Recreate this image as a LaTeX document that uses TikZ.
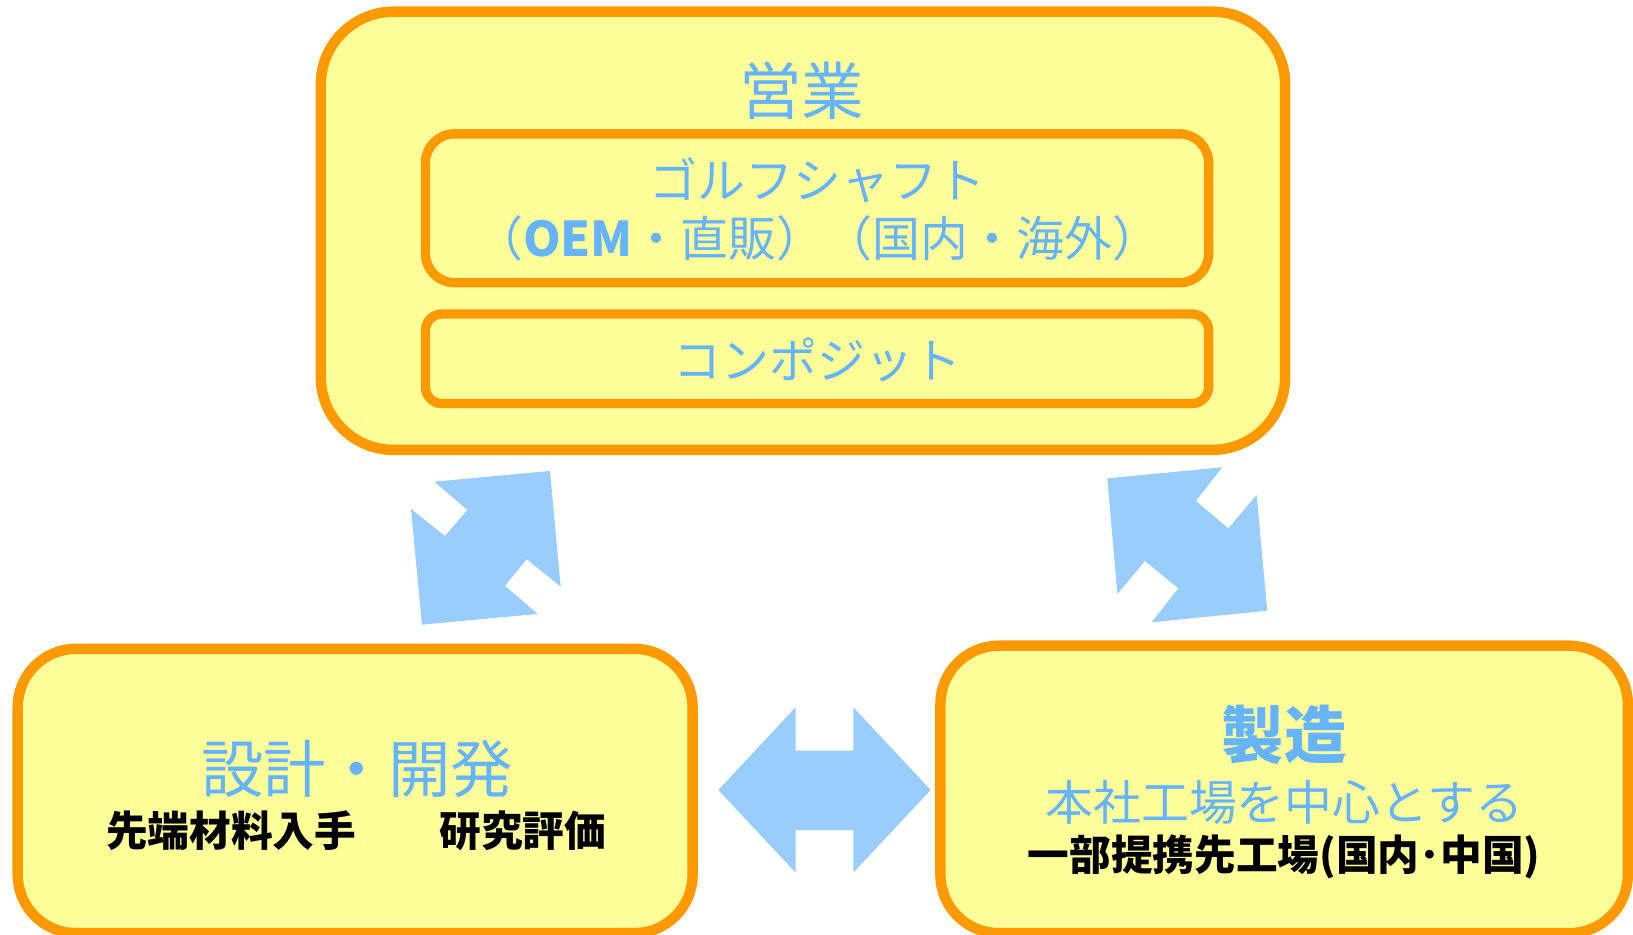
\documentclass[tikz,border=0pt]{standalone}
\usepackage{fontspec}
\newfontfamily\jp{Noto Sans CJK JP}
\definecolor{boxfill}{HTML}{FFFF99}
\definecolor{boxline}{HTML}{FF9900}
\definecolor{txtblue}{HTML}{66B3FF}
\definecolor{arrblue}{HTML}{99CCFF}
\tikzset{
  bigbox/.style={draw=boxline, fill=boxfill, line width=5pt, rectangle, inner sep=0pt},
  subbox/.style={draw=boxline, fill=boxfill, line width=4.5pt, rectangle, inner sep=0pt},
  bluetxt/.style={text=txtblue, inner sep=0pt, anchor=center, font=\jp},
  blacktxt/.style={text=black, inner sep=0pt, anchor=center, font=\jp\bfseries},
  blockarrow/.style={fill=arrblue, draw=none}
}
\begin{document}
\begin{tikzpicture}[x=0.5pt, y=-0.5pt]
\useasboundingbox (0,0) rectangle (1568,897);
% boxes
\node[bigbox, minimum width=463pt, minimum height=210.4pt, rounded corners=35pt] (sales) at (771,221.6) {};
\node[subbox, minimum width=376pt, minimum height=71.5pt, rounded corners=14pt] (golf) at (784.5,200) {};
\node[subbox, minimum width=376pt, minimum height=43pt, rounded corners=8pt] (comp) at (784.5,344.5) {};
\node[bigbox, minimum width=324pt, minimum height=136.5pt, rounded corners=28pt] (design) at (341,759.5) {};
\node[bigbox, minimum width=330pt, minimum height=138pt, rounded corners=28pt] (mfg) at (1233,758) {};
% texts
\node[bluetxt, font=\jp\fontsize{30}{36}\selectfont] (salesT) at (770,87) {営業};
\node[bluetxt, font=\jp\fontsize{23}{28}\selectfont] (golfT1) at (785,173) {ゴルフシャフト};
\node[bluetxt, font=\jp\fontsize{23}{28}\selectfont] (golfT2) at (785,229) {（{\bfseries OEM}・直販）（国内・海外）};
\node[bluetxt, font=\jp\fontsize{23}{28}\selectfont] (compT) at (785,346) {コンポジット};
\node[bluetxt, font=\jp\fontsize{30}{36}\selectfont] (designT) at (343,738) {設計・開発};
\node[blacktxt, font=\jp\bfseries\fontsize{20}{24}\selectfont] (designT2) at (342,798) {先端材料入手　　研究評価};
\node[bluetxt, font=\jp\bfseries\fontsize{30}{36}\selectfont] (mfgT) at (1233,706) {製造};
\node[bluetxt, font=\jp\fontsize{23}{28}\selectfont] (mfgT2) at (1233,770) {本社工場を中心とする};
\node[blacktxt, font=\jp\bfseries\fontsize{20}{24}\selectfont] (mfgT3) at (1233,823) {一部提携先工場(国内･中国)};
% block arrows
\fill[blockarrow] (417,462.5) -- (528.1,452.2) -- (538.4,563.3) -- (505.7,537) -- (484.9,562.6) -- (516.3,589.5) -- (405.2,599.8) -- (394.6,488.7) -- (427.3,514.6) -- (448.7,489.7) -- cycle;
\fill[blockarrow] (1063.2,459.3) -- (1173.6,448.7) -- (1148.3,481) -- (1179.4,507.3) -- (1206.6,475.3) -- (1216.8,586.4) -- (1105.8,597.5) -- (1131.4,564.9) -- (1099.4,538.7) -- (1072.9,570.3) -- cycle;
\fill[blockarrow] (689.7,758.5) -- (764,679.1) -- (764,720.8) -- (819.3,720.8) -- (819.3,679.1) -- (893.6,758.5) -- (819.3,838) -- (819.3,797) -- (764,797) -- (764,838) -- cycle;
\end{tikzpicture}
\end{document}
